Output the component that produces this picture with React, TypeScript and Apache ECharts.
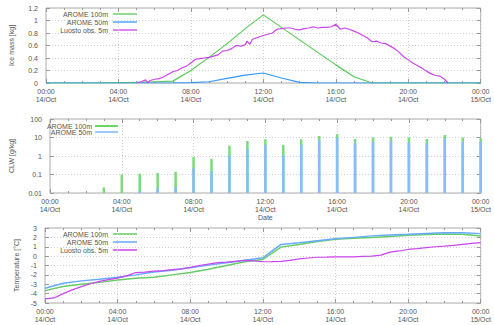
import React, { useEffect, useRef } from 'react';
import * as echarts from 'echarts';

// hours since 14/Oct 00:00
const hours = [0, 1, 2, 3, 4, 5, 6, 7, 8, 9, 10, 11, 12, 13, 14, 15, 16, 17, 18, 19, 20, 21, 22, 23, 24];

// Panel 1: ice mass [kg]
const ice100 = [0, 0, 0, 0, 0.005, 0.01, 0.02, 0.03, 0.2, 0.41, 0.63, 0.87, 1.09, 0.89, 0.69, 0.49, 0.29, 0.1, 0, 0, 0, 0, 0, 0, 0];
const ice50 = [0, 0, 0, 0, 0, 0, 0, 0, 0.005, 0.02, 0.075, 0.125, 0.16, 0.08, 0.01, 0, 0, 0, 0, 0, 0, 0, 0, 0, 0];
const obsIceTime = [5.0, 5.25, 5.5, 5.6, 5.75, 6.0, 6.25, 6.5, 6.75, 7.0, 7.25, 7.5, 7.75, 8.0, 8.25, 8.5, 8.75, 9.0, 9.25, 9.5, 9.75, 10.0, 10.25, 10.5, 10.75, 11.0, 11.1, 11.25, 11.4, 11.6, 11.8, 12.0, 12.25, 12.5, 12.75, 13.0, 13.25, 13.5, 13.75, 14.0, 14.25, 14.5, 14.75, 15.0, 15.25, 15.5, 15.75, 16.0, 16.25, 16.5, 16.75, 17.0, 17.25, 17.5, 17.75, 18.0, 18.25, 18.5, 18.75, 19.0, 19.25, 19.5, 19.75, 20.0, 20.25, 20.5, 20.75, 21.0, 21.25, 21.5, 21.75, 22.0, 22.2];
const obsIce = [0.0, 0.02, 0.05, 0.0, 0.04, 0.06, 0.07, 0.1, 0.14, 0.18, 0.2, 0.24, 0.27, 0.32, 0.38, 0.39, 0.4, 0.41, 0.43, 0.45, 0.51, 0.52, 0.55, 0.6, 0.59, 0.61, 0.67, 0.62, 0.7, 0.72, 0.74, 0.76, 0.78, 0.8, 0.86, 0.87, 0.88, 0.88, 0.86, 0.85, 0.87, 0.88, 0.9, 0.88, 0.89, 0.89, 0.9, 0.94, 0.86, 0.88, 0.86, 0.83, 0.8, 0.76, 0.72, 0.66, 0.67, 0.64, 0.63, 0.59, 0.55, 0.49, 0.42, 0.37, 0.32, 0.28, 0.24, 0.19, 0.15, 0.12, 0.11, 0.06, 0.0];

// Panel 2: CLW [g/kg]
const clw100 = [null, null, null, 0.02, 0.1, 0.11, 0.12, 0.14, 0.9, 0.7, 3.6, 6.5, 8, 4, 8, 12, 15, 8.3, 10, 11, 10, 8.3, 13.7, 10, 9];
const clw50 = [null, null, null, null, null, 0.0128, 0.018, 0.02, 0.22, 0.15, 1.05, 2.4, 4, 1.1, 4, 7.3, 9.7, 4.9, 5.9, 6.5, 5.5, 4.9, 8.7, 5.9, 6];

// Panel 3: temperature [°C]
const temp100 = [-3.68, -3.25, -3.0, -2.8, -2.55, -2.35, -2.25, -2.0, -1.75, -1.4, -1.0, -0.6, -0.36, 0.96, 1.25, 1.55, 1.8, 1.9, 1.98, 2.1, 2.23, 2.3, 2.37, 2.33, 2.15];
const temp50 = [-3.43, -2.9, -2.64, -2.46, -2.25, -2.0, -1.7, -1.5, -1.25, -0.96, -0.7, -0.43, -0.18, 1.25, 1.43, 1.65, 1.86, 2.0, 2.16, 2.25, 2.33, 2.42, 2.5, 2.5, 2.4];
const obsTempTime = [0, 0.5, 1, 1.5, 2, 2.5, 3, 3.5, 4, 4.5, 5, 5.5, 6, 6.5, 7, 7.5, 8, 8.5, 9, 9.5, 10, 10.5, 11, 11.5, 12, 12.5, 13, 13.5, 14, 14.5, 15, 15.5, 16, 16.5, 17, 17.5, 18, 18.5, 19, 19.5, 20, 20.5, 21, 21.5, 22, 22.5, 23, 23.5, 24];
const obsTemp = [-4.57, -4.46, -4.0, -3.6, -3.25, -2.95, -2.7, -2.5, -2.35, -2.1, -1.75, -1.7, -1.6, -1.55, -1.45, -1.35, -1.2, -1.0, -0.85, -0.7, -0.65, -0.55, -0.45, -0.5, -0.6, -0.58, -0.55, -0.45, -0.3, -0.2, -0.12, -0.1, -0.07, -0.07, -0.07, -0.03, 0.0, 0.1, 0.43, 0.55, 0.71, 0.8, 0.9, 1.0, 1.07, 1.15, 1.25, 1.35, 1.43];

const seriesNames = ['AROME 100m', 'AROME 50m', 'Luosto obs. 5m'];

const FONT = 'Liberation Sans, Arial, sans-serif';
const TXT = '#555';
const GREEN = '#55cc55';
const BLUE = '#3399ff';
const PURPLE = '#cc44ee';
const BAR_GREEN = '#77dd77';
const BAR_BLUE = '#88bbff';

export default function App() {
  const ref = useRef<HTMLDivElement>(null);
  useEffect(() => {
    if (!ref.current) return;
    const chart = echarts.init(ref.current, null, { renderer: 'svg' });

    const grids = [
      { left: 45, right: 8, top: 8, height: 75 },
      { left: 45, right: 8, top: 119, height: 74 },
      { left: 45, right: 8, top: 228, height: 75 },
    ].map((g) => ({ ...g, show: true, borderColor: '#aaa', borderWidth: 1, backgroundColor: 'transparent' }));

    const tickStyle = { color: '#999', width: 1 };
    const split = { show: true, lineStyle: { color: '#cfcfcf', type: [1, 2] as any, width: 1 } };
    const fmtTime = (v: number) => {
      const h = v % 24;
      const hh = (h < 10 ? '0' : '') + h + ':00';
      return hh + '\n' + (v >= 24 ? '15/Oct' : '14/Oct');
    };

    const xAxes: any[] = [];
    const yAxes: any[] = [];
    for (let g = 0; g < 3; g++) {
      const base = {
        type: 'value', gridIndex: g, min: 0, max: 24, interval: 4,
        axisLine: { show: false, onZero: false },
        axisTick: { show: true, inside: true, length: 4, lineStyle: tickStyle },
        minorTick: { show: true, splitNumber: 4, length: 2, lineStyle: tickStyle },
      };
      xAxes.push({
        ...base,
        position: 'bottom',
        splitLine: split,
        axisLabel: { show: true, formatter: fmtTime, color: TXT, fontSize: 7, fontFamily: FONT, lineHeight: 8, margin: 4 },
        ...(g === 1 ? { name: 'Date', nameLocation: 'middle', nameGap: 20, nameTextStyle: { color: TXT, fontSize: 7, fontFamily: FONT } } : {}),
      });
      xAxes.push({ ...base, position: 'top', splitLine: { show: false }, axisLabel: { show: false } });
    }

    const yCommon = {
      axisLine: { show: false, onZero: false },
      axisTick: { show: true, inside: true, length: 4, lineStyle: tickStyle },
    };
    const yLabel = { color: TXT, fontSize: 7, fontFamily: FONT, margin: 8 };
    const nameStyle = { color: TXT, fontSize: 7, fontFamily: FONT };
    // panel 1
    yAxes.push({ ...yCommon, type: 'value', gridIndex: 0, min: 0, max: 1.2, interval: 0.2, position: 'left', splitLine: split,
      axisLabel: { ...yLabel, formatter: (v: number) => String(Math.round(v * 10) / 10) },
      name: 'Ice mass [kg]', nameLocation: 'middle', nameGap: 31, nameTextStyle: nameStyle });
    yAxes.push({ ...yCommon, type: 'value', gridIndex: 0, min: 0, max: 1.2, interval: 0.2, position: 'right', splitLine: { show: false }, axisLabel: { show: false } });
    // panel 2
    yAxes.push({ ...yCommon, type: 'log', logBase: 10, gridIndex: 1, min: 0.01, max: 100, position: 'left', splitLine: split,
      axisLabel: { ...yLabel, formatter: (v: number) => String(Number(v.toPrecision(2))) },
      name: 'CLW [g/kg]', nameLocation: 'middle', nameGap: 35, nameTextStyle: nameStyle });
    yAxes.push({ ...yCommon, type: 'log', logBase: 10, gridIndex: 1, min: 0.01, max: 100, position: 'right', splitLine: { show: false }, axisLabel: { show: false } });
    // panel 3
    yAxes.push({ ...yCommon, type: 'value', gridIndex: 2, min: -5, max: 3, interval: 1, position: 'left', splitLine: split,
      axisLabel: { ...yLabel },
      name: 'Temperature [°C]', nameLocation: 'middle', nameGap: 22, nameTextStyle: nameStyle });
    yAxes.push({ ...yCommon, type: 'value', gridIndex: 2, min: -5, max: 3, interval: 1, position: 'right', splitLine: { show: false }, axisLabel: { show: false } });

    const line = (name: string, g: number, data: any[], color: string, width: number, z = 2) => ({
      type: 'line', name, xAxisIndex: 2 * g, yAxisIndex: 2 * g, data, showSymbol: false, symbol: 'none',
      lineStyle: { color, width }, itemStyle: { color }, silent: true, z, connectNulls: false,
    });

    const barSeries = (name: string, values: (number | null)[], color: string, w: number, z: number) => ({
      type: 'custom', name, xAxisIndex: 2, yAxisIndex: 2, z, silent: true,
      data: hours.map((h, i) => [h, values[i]]).filter((d) => d[1] != null),
      encode: { x: 0, y: 1 },
      renderItem: (params: any, api: any) => {
        const x = api.value(0);
        const v = api.value(1);
        const top = api.coord([x, v]);
        const bot = api.coord([x, 0.01]);
        return {
          type: 'rect',
          shape: { x: top[0] - w / 2, y: top[1], width: w, height: bot[1] - top[1] },
          style: { fill: color },
        };
      },
    });

    const series: any[] = [
      line(seriesNames[0], 0, hours.map((h, i) => [h, ice100[i]]), GREEN, 1.2, 2),
      line(seriesNames[1], 0, hours.map((h, i) => [h, ice50[i]]), BLUE, 1.2, 3),
      line(seriesNames[2], 0, obsIceTime.map((t, i) => [t, obsIce[i]]), PURPLE, 1.2, 4),
      barSeries(seriesNames[0], clw100, BAR_GREEN, 2.5, 2),
      barSeries(seriesNames[1], clw50, BAR_BLUE, 2.5, 3),
      line(seriesNames[0], 2, hours.map((h, i) => [h, temp100[i]]), '#66cc66', 1.5, 2),
      line(seriesNames[1], 2, hours.map((h, i) => [h, temp50[i]]), '#66aaff', 1.5, 3),
      line(seriesNames[2], 2, obsTempTime.map((t, i) => [t, obsTemp[i]]), PURPLE, 1.2, 4),
    ];

    const legend = (items: { name: string; color: string }[], textRight: number, x1: number, x2: number, ys: number[], lw: number) => {
      const els: any[] = [];
      items.forEach((it, i) => {
        els.push({ type: 'text', x: textRight, y: ys[i], style: { text: it.name, align: 'right', verticalAlign: 'middle', fill: TXT, font: `7px ${FONT}` } });
        els.push({ type: 'line', shape: { x1, y1: ys[i], x2, y2: ys[i] }, style: { stroke: it.color, lineWidth: lw } });
      });
      return els;
    };

    const graphic = [
      ...legend([
        { name: seriesNames[0], color: GREEN },
        { name: seriesNames[1], color: BLUE },
        { name: seriesNames[2], color: PURPLE },
      ], 108, 113, 137, [14, 22, 30], 1.3),
      ...legend([
        { name: seriesNames[0], color: '#44cc44' },
        { name: seriesNames[1], color: BAR_BLUE },
      ], 92, 95, 118, [126, 132], 1.6),
      ...legend([
        { name: seriesNames[0], color: '#66cc66' },
        { name: seriesNames[1], color: '#66aaff' },
        { name: seriesNames[2], color: PURPLE },
      ], 108, 113, 137, [234, 242, 250], 1.5),
    ];

    chart.setOption({
      animation: false,
      backgroundColor: '#fff',
      grid: grids,
      xAxis: xAxes,
      yAxis: yAxes,
      series,
      graphic,
    });
    return () => chart.dispose();
  }, []);
  return <div ref={ref} style={{ position: 'fixed', left: 0, top: 0, width: 494, height: 325 }} />;
}
